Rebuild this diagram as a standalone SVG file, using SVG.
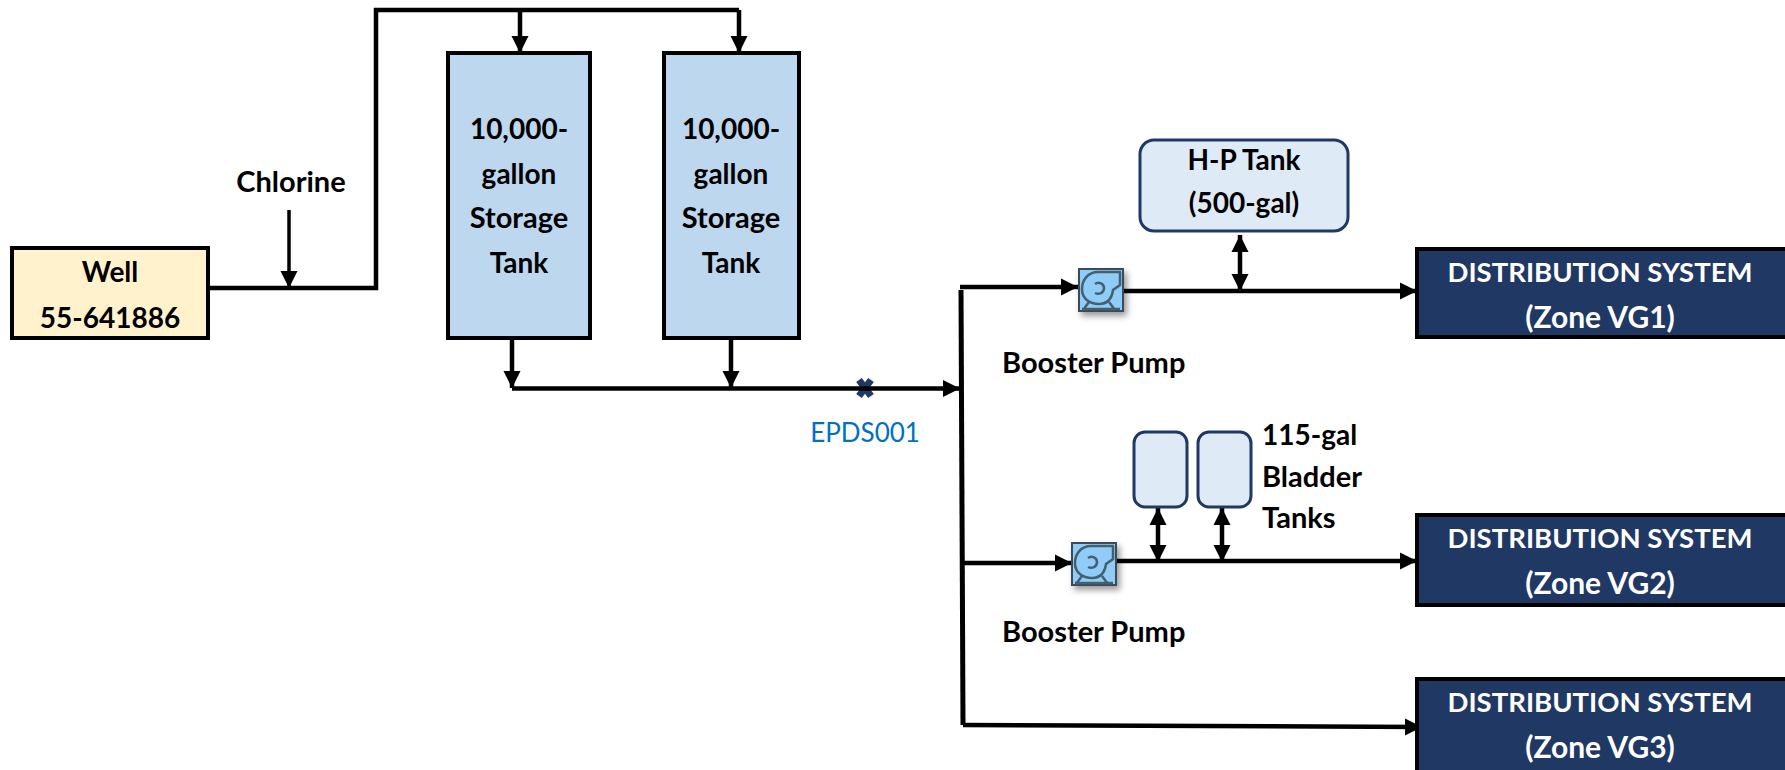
<svg xmlns="http://www.w3.org/2000/svg" xmlns:xlink="http://www.w3.org/1999/xlink" width="1785" height="770" viewBox="0 0 1785 770">
<style>
text{font-family:Lato,"Open Sans","Liberation Sans",sans-serif;font-weight:700;font-size:28px;fill:#000;text-anchor:middle}
.w{fill:#fff;font-size:27.500px}
.z{font-size:30px}
.l{text-anchor:start}
.b{font-size:29px}
.e{font-weight:400;fill:#0070c0;font-size:26px}
.box{stroke:#000;stroke-width:4}
.dist{fill:#1f3864;stroke:#000;stroke-width:4}
.rt{fill:#deeaf6;stroke:#1f3864;stroke-width:3}
.c{fill:none;stroke:#000;stroke-width:4.500}
.t{stroke-width:5}
.h{fill:none;stroke:#44606f;stroke-width:2.500}
</style>
<defs>
<marker id="a" viewBox="0 0 18 18" refX="17" refY="9" markerWidth="18" markerHeight="18" markerUnits="userSpaceOnUse" orient="auto-start-reverse"><path d="M0 0.500L17 9L0 17.500Z" fill="#000"/></marker>
<filter id="s" x="-20%" y="-20%" width="150%" height="150%"><feDropShadow dx="3" dy="4" stdDeviation="3" flood-color="#000" flood-opacity=".4"/></filter>
<g id="pump">
<rect x="0" y="0" width="44" height="42" fill="#8fcdf8" stroke="#3e4c59" stroke-width="2" filter="url(#s)"/>
<path class="h" d="M42 3H19C9 3 3 11 3 20C3 30 11 35 20 35C30 35 33 28 34 21L41 16V3"/>
<path class="h" d="M16 15C20 12 25 15 25 19C25 24 20 26 16 24"/>
<path class="h" d="M10 33L4 41M30 33L36 41M3 40H41"/>
</g>
</defs>
<g id="epds"><path d="M859 380L871 396M871 380L859 396" fill="none" stroke="#1f3864" stroke-width="7"/><text class="e" x="865" y="442">EPDS001</text></g>
<g id="connectors">
<path class="c" d="M208 288H376V10H739"/>
<path class="c" style="stroke-width:3.500" d="M289 210V288" marker-end="url(#a)"/>
<path class="c" d="M520 10V53" marker-end="url(#a)"/>
<path class="c" d="M739 10V53" marker-end="url(#a)"/>
<path class="c" d="M512 338V388" marker-end="url(#a)"/>
<path class="c" d="M731 340V388" marker-end="url(#a)"/>
<path class="c" d="M512 388.500H960" marker-end="url(#a)"/>
<path class="c t" d="M961 290L963 725"/>
<path class="c" d="M960 287H1078" marker-end="url(#a)"/>
<path class="c" d="M1123 291L1417 291" marker-end="url(#a)"/>
<path class="c" d="M963 563H1072" marker-end="url(#a)"/>
<path class="c" d="M1116 561H1417" marker-end="url(#a)"/>
<path class="c" d="M963 725L1422 727" marker-end="url(#a)"/>
<path class="c" d="M1240 235V291" marker-start="url(#a)" marker-end="url(#a)"/>
<path class="c" d="M1158 508V562" marker-start="url(#a)" marker-end="url(#a)"/>
<path class="c" d="M1222 508V562" marker-start="url(#a)" marker-end="url(#a)"/>
</g>
<g id="well"><rect class="box" x="12" y="248" width="196" height="90" fill="#fff2cc"/><text x="110" y="282">Well</text><text x="110" y="328">55-641886</text></g>
<g id="chlorine"><text class="b" x="291" y="192">Chlorine</text></g>
<g id="tank1"><rect class="box" x="448" y="53" width="142" height="285" fill="#bdd7ee"/><text x="519" y="139">10,000-</text><text x="519" y="184">gallon</text><text class="b" x="519" y="228">Storage</text><text x="519" y="273">Tank</text></g>
<g id="tank2"><rect class="box" x="664" y="53" width="135" height="285" fill="#bdd7ee"/><text x="731" y="139">10,000-</text><text x="731" y="184">gallon</text><text class="b" x="731" y="228">Storage</text><text x="731" y="273">Tank</text></g>
<g id="pump1"><use xlink:href="#pump" href="#pump" x="1079" y="269"/><text class="l b" x="1002" y="373">Booster Pump</text></g>
<g id="pump2"><use xlink:href="#pump" href="#pump" x="1072" y="543"/><text class="l b" x="1002" y="642">Booster Pump</text></g>
<g id="hp"><rect class="rt" x="1140" y="140" width="208" height="91" rx="14"/><text x="1244" y="170">H-P Tank</text><text x="1244" y="213">(500-gal)</text></g>
<g id="bladder1"><rect class="rt" x="1134" y="432" width="53" height="75" rx="11"/></g>
<g id="bladder2"><rect class="rt" x="1198" y="432" width="53" height="75" rx="11"/></g>
<g id="bladder-label"><text class="l" x="1262" y="445">115-gal</text><text class="l b" x="1262" y="487">Bladder</text><text class="l b" x="1262" y="528">Tanks</text></g>
<g id="vg1"><rect class="dist" x="1417" y="249" width="370" height="88"/><text class="w" x="1600" y="282">DISTRIBUTION SYSTEM</text><text class="w z" x="1600" y="328">(Zone VG1)</text></g>
<g id="vg2"><rect class="dist" x="1417" y="515" width="370" height="90"/><text class="w" x="1600" y="548">DISTRIBUTION SYSTEM</text><text class="w z" x="1600" y="594">(Zone VG2)</text></g>
<g id="vg3"><rect class="dist" x="1417" y="679" width="370" height="93"/><text class="w" x="1600" y="712">DISTRIBUTION SYSTEM</text><text class="w z" x="1600" y="758">(Zone VG3)</text></g>
</svg>
